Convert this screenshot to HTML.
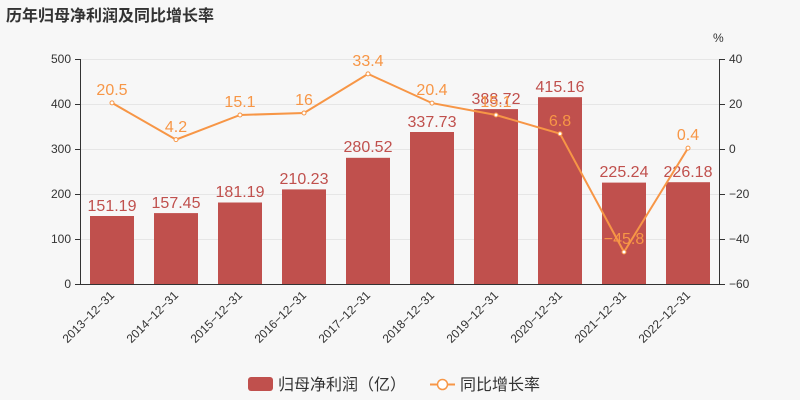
<!DOCTYPE html>
<html><head><meta charset="utf-8"><style>
body{margin:0;background:#f7f7f7;}
svg{display:block;font-family:"Liberation Sans","Noto Sans CJK SC",sans-serif;}
</style></head><body>
<svg width="800" height="400" viewBox="0 0 800 400" xmlns="http://www.w3.org/2000/svg">
<rect width="800" height="400" fill="#f7f7f7"/>
<text x="6" y="21" font-size="16" font-weight="bold" fill="#333">历年归母净利润及同比增长率</text>
<text x="713" y="42" font-size="12" fill="#333">%</text>
<g stroke="#e6e6e6" stroke-width="1">
<line x1="80" y1="59.5" x2="720" y2="59.5"/><line x1="80" y1="104.5" x2="720" y2="104.5"/>
<line x1="80" y1="149.5" x2="720" y2="149.5"/><line x1="80" y1="194.5" x2="720" y2="194.5"/>
<line x1="80" y1="239.5" x2="720" y2="239.5"/>
</g>
<g stroke="#333" stroke-width="1">
<line x1="80.5" y1="59" x2="80.5" y2="284"/><line x1="719.5" y1="59" x2="719.5" y2="284"/>
<line x1="80" y1="284.5" x2="720" y2="284.5"/>
<line x1="75" y1="59.5" x2="80" y2="59.5"/><line x1="75" y1="104.5" x2="80" y2="104.5"/><line x1="75" y1="149.5" x2="80" y2="149.5"/><line x1="75" y1="194.5" x2="80" y2="194.5"/><line x1="75" y1="239.5" x2="80" y2="239.5"/><line x1="75" y1="284.5" x2="80" y2="284.5"/>
<line x1="720" y1="59.5" x2="725" y2="59.5"/><line x1="720" y1="104.5" x2="725" y2="104.5"/><line x1="720" y1="149.5" x2="725" y2="149.5"/><line x1="720" y1="194.5" x2="725" y2="194.5"/><line x1="720" y1="239.5" x2="725" y2="239.5"/><line x1="720" y1="284.5" x2="725" y2="284.5"/>
</g>
<g font-size="12" fill="#333" text-anchor="end">
<text x="71" y="63">500</text><text x="71" y="108">400</text><text x="71" y="153">300</text><text x="71" y="198">200</text><text x="71" y="243">100</text><text x="71" y="288">0</text>
</g>
<g font-size="12" fill="#333" text-anchor="start">
<text x="729" y="63">40</text><text x="729" y="108">20</text><text x="729" y="153">0</text><text x="729" y="198">−20</text><text x="729" y="243">−40</text><text x="729" y="288">−60</text>
</g>
<g fill="#c0504d">
<rect x="90" y="216" width="44" height="68"/>
<rect x="154" y="213.1" width="44" height="70.9"/>
<rect x="218" y="202.5" width="44" height="81.5"/>
<rect x="282" y="189.4" width="44" height="94.6"/>
<rect x="346" y="157.8" width="44" height="126.2"/>
<rect x="410" y="132" width="44" height="152"/>
<rect x="474" y="109.1" width="44" height="174.9"/>
<rect x="538" y="97.2" width="44" height="186.8"/>
<rect x="602" y="182.6" width="44" height="101.4"/>
<rect x="666" y="182.2" width="44" height="101.8"/>
</g>
<g font-size="16" fill="#c0504d" text-anchor="middle">
<text x="112" y="211">151.19</text><text x="176" y="208">157.45</text><text x="240" y="197">181.19</text><text x="304" y="184">210.23</text><text x="368" y="152">280.52</text><text x="432" y="127">337.73</text><text x="496" y="104">388.72</text><text x="560" y="92">415.16</text><text x="624" y="177">225.24</text><text x="688" y="177">226.18</text>
</g>
<polyline fill="none" stroke="#f79646" stroke-width="2" points="112,102.9 176,139.6 240,115 304,113 368,73.9 432,103.1 496,115 560,133.7 624,252 688,148.1"/>
<g fill="#fff" stroke="#f79646" stroke-width="1">
<circle cx="112" cy="102.9" r="2"/><circle cx="176" cy="139.6" r="2"/><circle cx="240" cy="115" r="2"/><circle cx="304" cy="113" r="2"/><circle cx="368" cy="73.9" r="2"/><circle cx="432" cy="103.1" r="2"/><circle cx="496" cy="115" r="2"/><circle cx="560" cy="133.7" r="2"/><circle cx="624" cy="252" r="2"/><circle cx="688" cy="148.1" r="2"/>
</g>
<g font-size="16" fill="#f79646" text-anchor="middle">
<text x="112" y="95">20.5</text><text x="176" y="132">4.2</text><text x="240" y="107">15.1</text><text x="304" y="105">16</text><text x="368" y="66">33.4</text><text x="432" y="95">20.4</text><text x="496" y="107">15.1</text><text x="560" y="126">6.8</text><text x="624" y="244">−45.8</text><text x="688" y="140">0.4</text>
</g>
<g font-size="12" fill="#333" text-anchor="end">
<text transform="translate(115,296) rotate(-45)">2013−12−31</text>
<text transform="translate(179,296) rotate(-45)">2014−12−31</text>
<text transform="translate(243,296) rotate(-45)">2015−12−31</text>
<text transform="translate(307,296) rotate(-45)">2016−12−31</text>
<text transform="translate(371,296) rotate(-45)">2017−12−31</text>
<text transform="translate(435,296) rotate(-45)">2018−12−31</text>
<text transform="translate(499,296) rotate(-45)">2019−12−31</text>
<text transform="translate(563,296) rotate(-45)">2020−12−31</text>
<text transform="translate(627,296) rotate(-45)">2021−12−31</text>
<text transform="translate(691,296) rotate(-45)">2022−12−31</text>
</g>
<rect x="248" y="377" width="25" height="14" rx="3" fill="#c0504d"/>
<text x="278" y="390" font-size="16" fill="#333">归母净利润（亿）</text>
<line x1="430" y1="384.5" x2="455" y2="384.5" stroke="#f79646" stroke-width="2"/>
<circle cx="442.5" cy="384.5" r="5" fill="#fff" stroke="#f79646" stroke-width="1.5"/>
<text x="460" y="390" font-size="16" fill="#333">同比增长率</text>
</svg>
</body></html>
